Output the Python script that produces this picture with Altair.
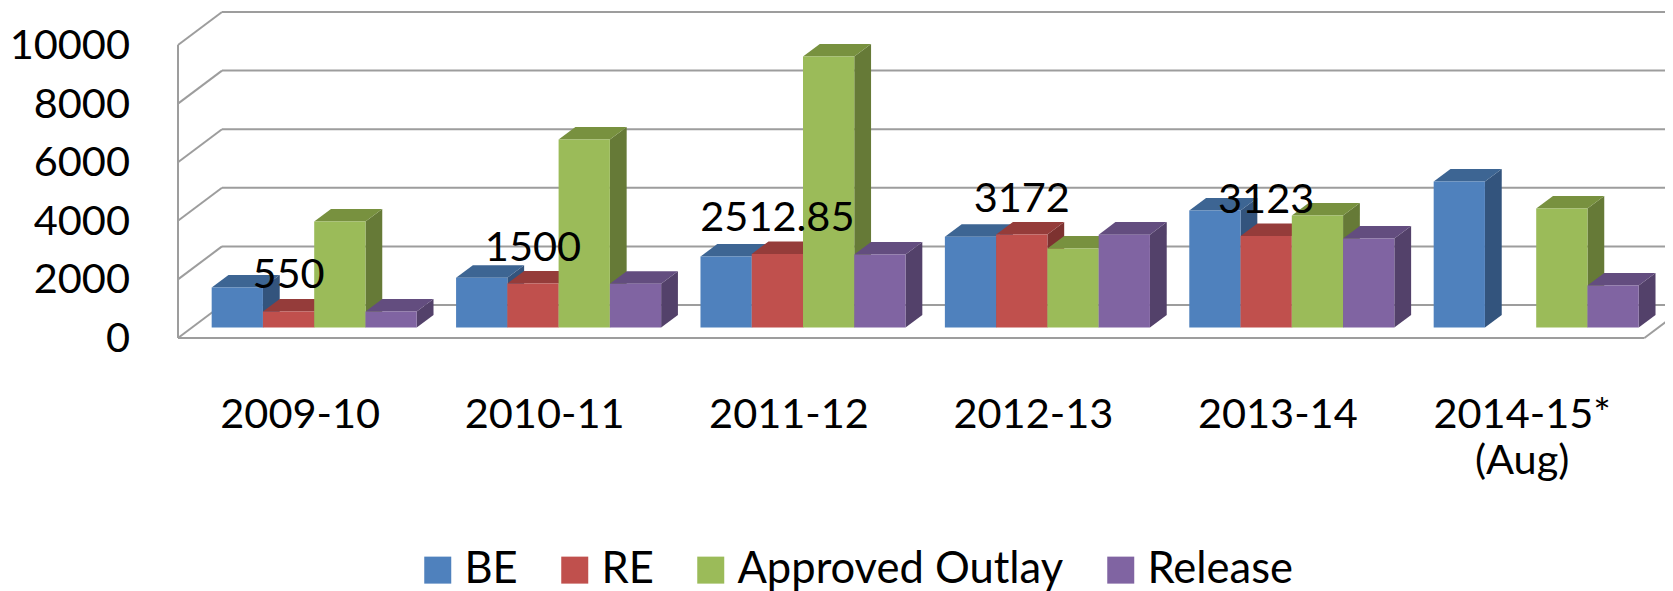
import altair as alt
import pandas as pd

# ---------------- data ----------------
CATEGORIES = ["2009-10", "2010-11", "2011-12", "2012-13", "2013-14", "2014-15*|(Aug)"]
SERIES = ["BE", "RE", "Approved Outlay", "Release"]
BE = [1365, 1700, 2420, 3100, 3990, 4980]
RE = [550, 1500, 2512.85, 3172, 3123, None]
APPROVED_OUTLAY = [3620, 6420, 9250, 2700, 3820, 4060]
RELEASE = [545, 1490, 2490, 3170, 3040, 1430]
Y_TICKS = [0, 2000, 4000, 6000, 8000, 10000]

FRONT_COLORS = ["#4F81BD", "#C0504D", "#9BBB59", "#8064A2"]
TOP_COLORS = ["#3D6593", "#953C3A", "#78913F", "#634D7F"]
SIDE_COLORS = ["#33547D", "#7D3230", "#667A37", "#53416A"]

rows = []
for s_idx, (name, vals) in enumerate(zip(SERIES, [BE, RE, APPROVED_OUTLAY, RELEASE])):
    for c_idx, v in enumerate(vals):
        if v is not None:
            rows.append({"series": name, "s": s_idx, "c": c_idx, "value": v})
df = pd.DataFrame(rows)
# each bar twice (front edge k=0, back edge k=1) for the 3-D faces
df2 = df.merge(pd.DataFrame({"k": [0, 1]}), how="cross")
ticks_df = pd.DataFrame({"v": Y_TICKS})
cats_df = pd.DataFrame({"c": list(range(len(CATEGORIES))), "name": CATEGORIES})

# ---------------- geometry (in data units) ----------------
N = len(CATEGORIES)
W, H = 1487, 330
UNIT_PX = 244.4
XMIN = -0.5
XMAX = XMIN + W / UNIT_PX
YMAX = 11263
GROUP_W = 0.839
BAR_W = GROUP_W / 4
FRONT_DX, FRONT_DY = 0.0573, 358      # bars sit a little behind the front plane
DEPTH_DX, DEPTH_DY = 0.0687, 427      # bar depth
WALL_DX, WALL_DY = 0.18, 1126         # back wall depth
LABEL_DY = 785
CAT_LABEL_Y = -3072
YLAB_X = XMIN - 48 / UNIT_PX
YLAB_DY = -68

FONT = "Lato"
FS = 41.5

xs = alt.Scale(domain=[XMIN, XMAX], nice=False, zero=False)
ys = alt.Scale(domain=[0, YMAX], nice=False, zero=False)

geo = dict(
    L=f"datum.c - 0.5 + {(1 - GROUP_W) / 2} + {FRONT_DX} + datum.s * {BAR_W}",
    R=f"datum.c - 0.5 + {(1 - GROUP_W) / 2} + {FRONT_DX} + (datum.s + 1) * {BAR_W}",
    bot=f"{FRONT_DY}",
    top=f"{FRONT_DY} + datum.value",
)

base = alt.Chart(df).transform_calculate(**geo)
two = alt.Chart(df2).transform_calculate(**geo).transform_calculate(bid="datum.series + '_' + datum.c")

sides = two.transform_calculate(
    sx=f"datum.R + datum.k * {DEPTH_DX}",
    sy=f"datum.top + datum.k * {DEPTH_DY}",
    sy2=f"datum.bot + datum.k * {DEPTH_DY}",
).mark_area().encode(
    x=alt.X("sx:Q", scale=xs, axis=None),
    y=alt.Y("sy:Q", scale=ys, axis=None, stack=None),
    y2="sy2:Q",
    color=alt.Color("series:N", scale=alt.Scale(domain=SERIES, range=SIDE_COLORS), legend=None),
    detail="bid:N",
)

tops = two.transform_calculate(
    tx=f"datum.L + datum.k * {DEPTH_DX}",
    tx2=f"datum.R + datum.k * {DEPTH_DX}",
    ty=f"datum.top + datum.k * {DEPTH_DY}",
).mark_area(orient="horizontal").encode(
    y=alt.Y("ty:Q", scale=ys, axis=None),
    x=alt.X("tx:Q", scale=xs, axis=None, stack=None),
    x2="tx2:Q",
    color=alt.Color("series:N", scale=alt.Scale(domain=SERIES, range=TOP_COLORS), legend=None),
    detail="bid:N",
)

fronts = base.mark_rect().encode(
    x=alt.X("L:Q", scale=xs, axis=None),
    x2="R:Q",
    y=alt.Y("top:Q", scale=ys, axis=None),
    y2="bot:Q",
    color=alt.Color(
        "series:N",
        scale=alt.Scale(domain=SERIES, range=FRONT_COLORS),
        legend=alt.Legend(
            title=None, orient="none", legendX=238, legendY=540, direction="horizontal",
            symbolType="square", symbolSize=729, symbolStrokeWidth=0, symbolOpacity=1,
            labelFont=FONT, labelFontSize=43.5, labelColor="black", labelOffset=5,
            columnPadding=35, labelLimit=1000,
        ),
    ),
)

labels = base.transform_filter("datum.series == 'RE'").transform_calculate(
    lx="(datum.L + datum.R) / 2",
    ly=f"datum.top + {LABEL_DY}",
    lbl="'' + datum.value",
).mark_text(font=FONT, fontSize=FS, baseline="alphabetic", align="center", color="black").encode(
    x=alt.X("lx:Q", scale=xs, axis=None),
    y=alt.Y("ly:Q", scale=ys, axis=None),
    text="lbl:N",
)

cat_labels = alt.Chart(cats_df).transform_calculate(ly=f"{CAT_LABEL_Y}").mark_text(
    font=FONT, fontSize=FS, baseline="alphabetic", align="center", color="black",
    lineBreak="|", lineHeight=46,
).encode(
    x=alt.X("c:Q", scale=xs, axis=None),
    y=alt.Y("ly:Q", scale=ys, axis=None),
    text="name:N",
)

y_labels = alt.Chart(ticks_df).transform_calculate(
    lx=f"{YLAB_X}", ly=f"datum.v + {YLAB_DY}", lbl="'' + datum.v"
).mark_text(font=FONT, fontSize=FS, baseline="middle", align="right", color="black").encode(
    x=alt.X("lx:Q", scale=xs, axis=None),
    y=alt.Y("ly:Q", scale=ys, axis=None),
    text="lbl:N",
)

# ---------------- walls / floor ----------------
GRID = "#9D9D9D"
grid_base = alt.Chart(ticks_df)
left_wall = grid_base.transform_calculate(
    x1=f"{XMIN}", x2=f"{XMIN + WALL_DX}", y1="datum.v", y2=f"datum.v + {WALL_DY}"
).mark_rule(color=GRID, strokeWidth=2).encode(
    x=alt.X("x1:Q", scale=xs, axis=None), x2="x2:Q",
    y=alt.Y("y1:Q", scale=ys, axis=None), y2="y2:Q",
)
back_wall = grid_base.transform_calculate(
    x1=f"{XMIN + WALL_DX}", x2=f"{N - 0.5 + WALL_DX}", y1=f"datum.v + {WALL_DY}"
).mark_rule(color=GRID, strokeWidth=2).encode(
    x=alt.X("x1:Q", scale=xs, axis=None), x2="x2:Q",
    y=alt.Y("y1:Q", scale=ys, axis=None),
)
frame_df = pd.DataFrame({"x1": [XMIN, XMIN, N - 0.5],
                         "x2": [XMIN, N - 0.5, N - 0.5 + WALL_DX],
                         "y1": [0, 0, 0],
                         "y2": [Y_TICKS[-1], 0, WALL_DY]})
frame = alt.Chart(frame_df).mark_rule(color=GRID, strokeWidth=2).encode(
    x=alt.X("x1:Q", scale=xs, axis=None), x2="x2:Q",
    y=alt.Y("y1:Q", scale=ys, axis=None), y2="y2:Q",
)

chart = (
    alt.layer(left_wall, back_wall, frame, sides, tops, fronts, labels, cat_labels, y_labels)
    .resolve_scale(color="independent")
    .properties(
        width=W, height=H,
        autosize=alt.AutoSizeParams(type="none"),
        padding={"left": 170, "top": 0, "right": 0, "bottom": 253},
        background="white",
    )
    .configure_view(stroke=None)
)

chart.save("out.html", embed_options={"renderer": "svg", "actions": False})
